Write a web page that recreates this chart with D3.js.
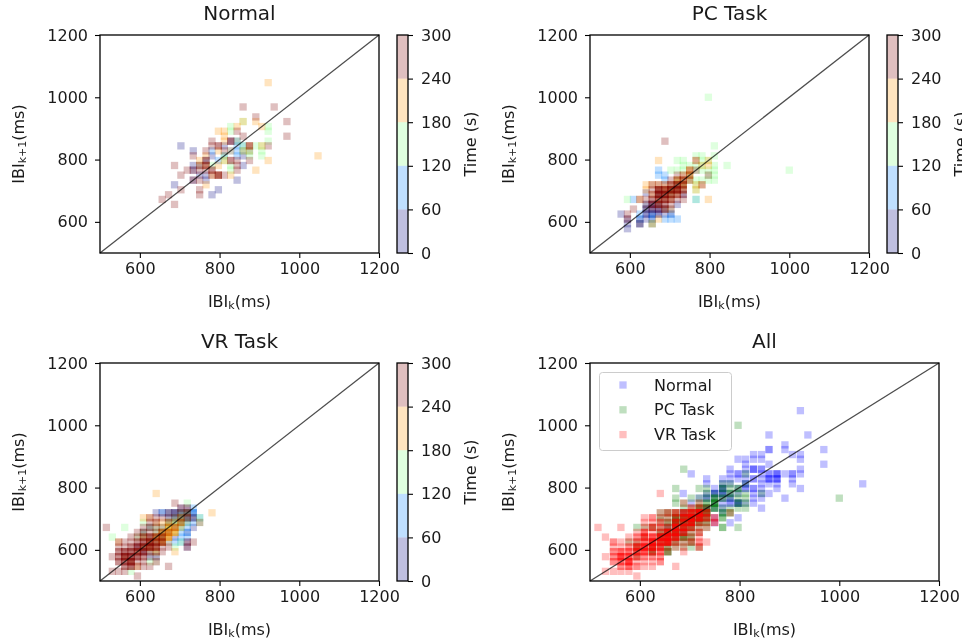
<!DOCTYPE html>
<html>
<head>
<meta charset="utf-8">
<script src="https://d3js.org/d3.v7.min.js"></script>
<style>
  html, body { margin: 0; padding: 0; background: #fff; overflow: hidden; }
  svg { display: block; filter: blur(0.55px); }
  text { font-family: "DejaVu Sans", sans-serif; fill: #1a1a1a; }
</style>
</head>
<body>
<script>
// points are [IBI k, IBI k+1], grouped by the five time bins of the colorbar
const normalPoints = [
  [[703,844],[734,828],[734,781],[734,766],[734,734],[766,734],[687,719],[797,703],[781,687],[844,734],[859,781],[828,859],[844,859],[781,812],[812,844],[766,750],[750,750],[859,812]],
  [[844,844],[859,844],[844,828],[859,828],[812,812],[797,797],[875,828],[828,828],[781,828],[766,797],[844,812],[750,781]],
  [[922,906],[922,859],[906,828],[906,812],[828,906],[828,891],[844,859],[859,844],[875,828],[875,812],[812,812],[781,781],[859,922],[859,828],[828,781],[828,766],[812,797],[891,844],[906,844],[922,891]],
  [[922,1047],[891,922],[859,922],[906,906],[844,906],[797,891],[812,891],[812,875],[812,859],[922,797],[1047,812],[891,766],[766,719],[750,797],[766,812],[797,750],[828,750],[781,750],[875,844],[859,828],[812,797],[797,781],[766,781],[750,781],[828,828],[797,828],[875,828],[906,844]],
  [[859,969],[937,969],[891,937],[969,922],[969,875],[844,891],[859,875],[781,859],[828,859],[922,844],[875,797],[750,687],[750,703],[703,703],[672,687],[656,672],[687,656],[687,781],[703,750],[719,766],[734,812],[734,734],[750,734],[750,766],[750,781],[766,797],[766,781],[766,766],[781,766],[781,844],[797,844],[781,750],[797,750],[812,750],[844,797],[844,781],[828,797],[844,766],[875,844],[812,828],[766,828],[734,766],[766,797],[766,781],[781,766],[797,750],[797,750],[797,844],[828,859],[875,844],[828,797]]
];
const pcPoints = [
  [[578,625],[594,609],[594,594],[594,578],[625,594],[625,609],[641,625],[641,641],[656,625],[656,609],[656,594],[641,693],[672,641],[672,656],[656,656],[688,625],[688,641],[703,641],[719,656],[734,688],[672,625],[641,609],[656,641],[703,625],[656,641],[656,625],[641,625],[672,641],[672,656],[656,656],[672,625],[688,641]],
  [[609,672],[625,625],[625,609],[625,594],[641,641],[656,625],[672,766],[672,750],[688,750],[688,734],[703,625],[703,609],[719,609],[688,609],[766,672],[656,609],[641,656],[672,688],[703,688],[719,719]],
  [[797,1000],[1000,766],[812,844],[844,781],[812,812],[781,812],[766,812],[719,797],[734,797],[781,797],[797,797],[812,781],[781,781],[766,781],[812,750],[797,750],[812,734],[797,734],[781,734],[766,719],[766,703],[766,672],[594,672],[656,594],[750,781],[734,781],[766,766],[781,766],[750,750],[734,766],[797,766],[812,766],[750,734],[766,734],[703,766],[719,766],[719,734],[734,719],[703,703]],
  [[672,797],[641,719],[625,672],[797,672],[797,781],[781,781],[797,797],[766,797],[766,703],[766,719],[781,719],[656,594],[672,609],[688,641],[703,641],[641,703],[656,719],[672,703],[688,703],[703,703],[703,688],[719,703],[719,719],[734,719],[734,734],[750,734],[750,750],[719,688],[734,703],[688,672],[672,656],[703,672],[688,719],[656,688],[672,719],[719,734],[750,766],[703,703],[703,719],[719,719],[719,703],[719,734],[734,734],[734,719],[734,750],[750,750],[750,766],[688,688],[688,703],[672,688],[672,672],[703,688]],
  [[688,859],[766,797],[734,672],[609,641],[594,625],[594,609],[625,594],[625,672],[641,656],[641,672],[656,719],[656,703],[656,688],[656,672],[672,719],[672,703],[672,703],[672,688],[672,688],[672,672],[672,672],[672,656],[672,641],[688,719],[688,703],[688,688],[688,688],[688,672],[688,656],[688,641],[703,734],[703,719],[703,703],[703,703],[703,688],[703,672],[703,656],[719,750],[719,734],[719,719],[719,703],[719,703],[719,688],[719,672],[734,750],[734,734],[734,719],[734,703],[734,688],[750,766],[750,750],[750,734],[781,719],[797,750],[766,766],[656,656],[641,641],[656,641],[672,703],[672,688],[672,672],[688,703],[688,703],[688,688],[688,672],[672,656],[703,703],[703,688],[703,672],[703,719],[719,703],[719,719],[719,688],[719,719],[734,719],[734,734],[734,703],[656,672],[656,656],[688,656],[672,703],[688,688],[703,703],[719,703],[672,688],[688,672]]
];
const vrPoints = [
  [[703,719],[719,719],[734,719],[641,719],[656,719],[703,734],[719,734],[688,703],[719,688],[719,656],[734,672],[719,625],[719,609],[641,562],[641,625],[688,641],[625,641],[656,641],[734,703],[625,672],[609,656],[594,609],[609,594],[672,719],[688,719],[703,719],[719,719],[688,719],[703,703],[719,703]],
  [[672,719],[688,719],[656,719],[703,703],[734,734],[734,719],[734,703],[719,703],[719,672],[719,656],[719,641],[703,656],[734,688],[750,703],[703,625],[672,641],[688,625],[641,578],[625,594],[656,625],[672,625],[609,609],[625,578],[672,703],[688,688],[703,672],[703,641],[703,719],[703,703],[719,719],[719,703],[719,719],[734,719],[688,703],[703,688]],
  [[562,672],[531,641],[719,750],[750,703],[750,688],[578,531],[688,609],[641,641],[656,641],[641,656],[656,656],[672,672],[688,672],[703,703],[719,688],[672,688],[656,672],[641,672],[625,672],[609,688],[703,672],[703,688],[688,656],[672,656],[719,719],[703,625],[641,594],[625,562],[703,719],[609,656],[609,641],[594,641],[656,656],[672,672],[672,672],[688,688],[688,688],[703,688],[703,703],[672,688],[688,703],[719,703],[719,719]],
  [[641,781],[781,719],[688,594],[547,625],[594,547],[609,641],[625,641],[625,625],[641,641],[641,625],[656,641],[656,656],[656,656],[672,641],[672,641],[672,656],[672,656],[672,672],[672,672],[688,672],[688,672],[688,656],[688,688],[703,688],[703,703],[641,609],[656,625],[656,625],[625,609],[625,594],[641,594],[641,562],[609,609],[594,594],[578,562],[562,578],[672,625],[609,703],[625,703],[656,688],[672,688],[641,688],[641,625],[656,641],[656,641],[656,625],[656,625],[672,641],[672,641],[672,656],[672,656],[688,656],[688,656],[641,641],[641,641],[625,625],[625,609],[609,609],[688,672],[703,672],[703,688],[656,656],[672,672]],
  [[516,672],[688,750],[594,516],[672,547],[531,531],[547,531],[531,578],[547,625],[734,625],[719,625],[719,609],[672,609],[750,688],[625,672],[625,703],[547,609],[547,594],[547,578],[547,562],[562,609],[562,594],[562,594],[562,578],[562,578],[562,562],[562,547],[562,531],[578,609],[578,594],[578,594],[578,578],[578,578],[578,562],[578,562],[578,547],[578,547],[594,625],[594,609],[594,594],[594,578],[594,578],[594,562],[594,547],[609,641],[609,625],[609,625],[609,609],[609,594],[609,594],[609,578],[609,562],[609,547],[625,641],[625,641],[625,625],[625,625],[625,609],[625,609],[625,594],[625,578],[625,547],[641,641],[641,625],[641,609],[641,594],[641,578],[656,625],[656,609],[656,641],[656,594],[594,641],[594,656],[578,625],[578,641],[562,625],[609,656],[625,656],[609,672],[625,688],[641,672],[641,688],[656,672],[672,688],[688,719],[703,703],[703,719],[719,703],[719,719],[719,734],[734,703],[688,703],[703,734],[672,703],[547,578],[547,562],[562,594],[562,578],[562,562],[562,562],[578,594],[578,578],[578,562],[578,547],[562,547],[562,578],[547,594],[594,594],[594,609],[609,609],[609,609],[609,594],[609,625],[625,625],[625,609],[625,609],[594,594],[594,609],[625,625],[641,625],[641,609],[641,609],[609,578],[594,578],[578,578],[578,562],[641,641],[656,641],[656,625],[672,656],[688,672],[703,688],[719,703],[719,719],[641,703],[656,703],[672,719],[641,656],[656,656],[594,625],[578,609],[609,641]]
];

const taskNames = ['Normal', 'PC Task', 'VR Task'];
const taskColors = ['#0000ff', '#008000', '#ff0000'];
const binColors = ['#00007f', '#007fff', '#7fff7f', '#ff9400', '#7f0000'];
const timeTicks = [0, 60, 120, 180, 240, 300];
const ibiTicks = [600, 800, 1000, 1200];
const yTicks = [600, 800, 1000, 1200];

const W = 962, H = 644, alpha = 0.25, size = 7.3;

const svg = d3.select('body').append('svg').attr('width', W).attr('height', H);

function panel(left, top, width, title) {
  const x = d3.scaleLinear().domain([500, 1200]).range([left, left + width]);
  const y = d3.scaleLinear().domain([500, 1200]).range([top + 218, top]);
  const g = svg.append('g');

  g.append('g').attr('class', 'marks');

  g.append('line')
    .attr('x1', x(500)).attr('y1', y(500))
    .attr('x2', x(1200)).attr('y2', y(1200))
    .attr('stroke', '#000').attr('stroke-opacity', 0.7).attr('stroke-width', 1.3);

  g.append('g').attr('transform', 'translate(0,' + (top + 218) + ')')
    .call(d3.axisBottom(x).tickValues(ibiTicks).tickFormat(d3.format('d')).tickSize(5).tickPadding(5));
  g.append('g').attr('transform', 'translate(' + left + ',0)')
    .call(d3.axisLeft(y).tickValues(yTicks).tickFormat(d3.format('d')).tickSize(5).tickPadding(7));
  g.selectAll('.tick text').attr('font-size', 16).attr('font-family', '"DejaVu Sans"');
  g.selectAll('.domain').attr('stroke', 'none');
  g.selectAll('.tick line').attr('stroke', '#000').attr('stroke-width', 1.1);

  g.append('rect')
    .attr('x', left).attr('y', top).attr('width', width).attr('height', 218)
    .attr('fill', 'none').attr('stroke', '#000').attr('stroke-width', 1.3);

  g.append('text').attr('x', left + width / 2).attr('y', top - 15)
    .attr('text-anchor', 'middle').attr('font-size', 20).text(title);

  const xl = g.append('text').attr('x', left + width / 2).attr('y', top + 218 + 54)
    .attr('text-anchor', 'middle').attr('font-size', 16);
  xl.append('tspan').text('IBI');
  xl.append('tspan').attr('font-size', 11).attr('dy', 2).text('k');
  xl.append('tspan').attr('dy', -2).text('(ms)');

  const yl = g.append('text')
    .attr('transform', 'translate(' + (left - 76) + ',' + (top + 109) + ') rotate(-90)')
    .attr('text-anchor', 'middle').attr('font-size', 16);
  yl.append('tspan').text('IBI');
  yl.append('tspan').attr('font-size', 11).attr('dy', 2).text('k+1');
  yl.append('tspan').attr('dy', -2).text('(ms)');

  return { g: g, x: x, y: y };
}

function squares(p, pts, color) {
  p.g.select('.marks').append('g').selectAll('rect')
    .data(pts)
    .enter()
    .append('rect')
    .attr('x', d => p.x(d[0]) - size / 2)
    .attr('y', d => p.y(d[1]) - size / 2)
    .attr('width', size)
    .attr('height', size)
    .attr('fill', color)
    .attr('fill-opacity', alpha);
}

function colorbar(left, top) {
  const c = d3.scaleLinear().domain([0, 300]).range([top + 218, top]);
  const g = svg.append('g');
  g.selectAll('rect')
    .data(binColors)
    .enter()
    .append('rect')
    .attr('x', left)
    .attr('y', (d, i) => c(timeTicks[i + 1]))
    .attr('width', 11)
    .attr('height', (d, i) => c(timeTicks[i]) - c(timeTicks[i + 1]))
    .attr('fill', d => d)
    .attr('fill-opacity', alpha);
  const ax = g.append('g').attr('transform', 'translate(' + (left + 11) + ',0)')
    .call(d3.axisRight(c).tickValues(timeTicks).tickSize(5).tickPadding(8));
  ax.selectAll('text').attr('font-size', 16).attr('font-family', '"DejaVu Sans"');
  ax.select('.domain').attr('stroke', 'none');
  ax.selectAll('.tick line').attr('stroke', '#000').attr('stroke-width', 1.1);
  g.append('rect').attr('x', left).attr('y', top).attr('width', 11).attr('height', 218)
    .attr('fill', 'none').attr('stroke', '#000').attr('stroke-width', 1.3);
  g.append('text')
    .attr('transform', 'translate(' + (left + 79) + ',' + (top + 109) + ') rotate(-90)')
    .attr('text-anchor', 'middle').attr('font-size', 16).text('Time (s)');
}

const tasks = [normalPoints, pcPoints, vrPoints];
const spots = [[100, 35, 397], [590, 35, 887], [100, 363, 397]];

tasks.forEach(function (bins, i) {
  const p = panel(spots[i][0], spots[i][1], 279, taskNames[i]);
  bins.forEach((pts, b) => squares(p, pts, binColors[b]));
  colorbar(spots[i][2], spots[i][1]);
});

const all = panel(590, 363, 349, 'All');
tasks.forEach((bins, i) => squares(all, bins.flat(), taskColors[i]));

// legend
const legend = svg.append('g');
legend.append('rect')
  .attr('x', 599.5).attr('y', 372.5).attr('width', 132).attr('height', 78).attr('rx', 3)
  .attr('fill', '#fff').attr('fill-opacity', 0.8).attr('stroke', '#ccc');
const rows = legend.selectAll('.row')
  .data(taskNames)
  .enter()
  .append('g')
  .attr('transform', (d, i) => 'translate(0,' + (385 + i * 24.8) + ')');
rows.append('rect')
  .attr('x', 623 - size / 2).attr('y', -size / 2).attr('width', size).attr('height', size)
  .attr('fill', (d, i) => taskColors[i]).attr('fill-opacity', alpha);
rows.append('text')
  .attr('x', 654).attr('y', 5.5).attr('font-size', 16).text(d => d);
</script>
</body>
</html>
